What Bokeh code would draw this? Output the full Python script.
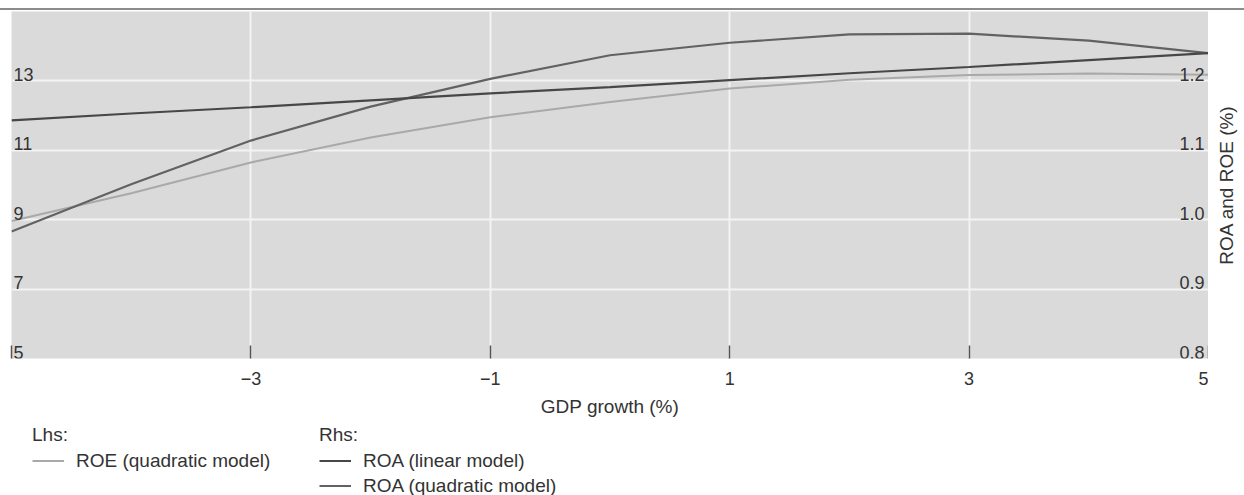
from bokeh.plotting import figure
from bokeh.models import (Range1d, FixedTicker, Grid, Legend, LegendItem, Div, Spacer)
from bokeh.layouts import column, row
from bokeh.embed import file_html
from bokeh.resources import INLINE
from bokeh.core.properties import value

# ---------------- data ----------------
gdp_growth = [-5, -4, -3, -2, -1, 0, 1, 2, 3, 4, 5]
roe_quadratic = [8.96, 9.76, 10.65, 11.37, 11.95, 12.39, 12.78, 13.03, 13.17, 13.21, 13.18]
roa_linear = [1.143, 1.153, 1.162, 1.172, 1.182, 1.191, 1.201, 1.211, 1.220, 1.230, 1.240]
roa_quadratic = [0.983, 1.051, 1.114, 1.163, 1.203, 1.237, 1.255, 1.267, 1.268, 1.258, 1.240]

x_ticks = [-5, -3, -1, 1, 3, 5]
x_tick_labels = ["", "\u22123", "\u22121", "1", "3", "5"]
x_grid_ticks = [-3, -1, 1, 3]
lhs_ticks = [5, 7, 9, 11, 13]
lhs_labels = ["5", "7", "9", "11", "13"]
lhs_grid_ticks = [7, 9, 11, 13]
rhs_ticks = [0.8, 0.9, 1.0, 1.1, 1.2]
rhs_labels = ["0.8", "0.9", "1.0", "1.1", "1.2"]

FONT = "Liberation Sans"
TXT = "#333333"
GRID = "#f3f3f3"
C_ROE = "#a9a9a9"
C_LIN = "#474747"
C_QUAD = "#626262"

FRAME_H = 347
BOTTOM = 65

p = figure(frame_width=1197, frame_height=FRAME_H,
           x_range=Range1d(-5, 5), y_range=Range1d(5, 15),
           y_axis_location=None,
           output_backend="svg", toolbar_location=None,
           min_border_left=11, min_border_top=1, min_border_right=0, min_border_bottom=BOTTOM,
           background_fill_color="#dadada", border_fill_color="white",
           outline_line_color=None, margin=0)
p.extra_y_ranges = {"right": Range1d(0.8, 1.3)}

# x axis
xa = p.xaxis[0]
xa.ticker = FixedTicker(ticks=x_ticks)
xa.major_label_overrides = {t: l for t, l in zip(x_ticks, x_tick_labels)}
xa.axis_line_color = None
xa.major_tick_in = 13
xa.major_tick_out = 0
xa.major_tick_line_color = "#555555"
xa.major_tick_line_width = 1.5
xa.minor_tick_line_color = None
xa.major_label_standoff = 13
xa.major_label_text_font = FONT
xa.major_label_text_font_size = "18px"
xa.major_label_text_color = TXT
xa.axis_label = "GDP growth (%)"
xa.axis_label_text_font = FONT
xa.axis_label_text_font_size = "19px"
xa.axis_label_text_font_style = "normal"
xa.axis_label_text_color = TXT
xa.axis_label_standoff = 8

# grids
p.xgrid.ticker = FixedTicker(ticks=x_grid_ticks)
p.xgrid.grid_line_color = GRID
p.xgrid.grid_line_width = 2
ygrids = [g for g in p.center if isinstance(g, Grid) and g.dimension == 1]
for g in ygrids:
    g.visible = False
p.add_layout(Grid(dimension=1, ticker=FixedTicker(ticks=lhs_grid_ticks),
                  grid_line_color=GRID, grid_line_width=2))

# lines
r_roe = p.line(gdp_growth, roe_quadratic, line_color=C_ROE, line_width=2)
r_quad = p.line(gdp_growth, roa_quadratic, y_range_name="right", line_color=C_QUAD, line_width=2.2)
r_lin = p.line(gdp_growth, roa_linear, y_range_name="right", line_color=C_LIN, line_width=2.2)

# tick labels inside the frame
p.text(x=[p.x_range.start] * len(lhs_ticks), y=lhs_ticks, text=lhs_labels,
       x_offset=2, text_align="left", text_baseline="bottom",
       text_font=value(FONT), text_font_size="18px", text_color=TXT)
p.text(x=[p.x_range.end] * len(rhs_ticks), y=rhs_ticks, text=rhs_labels,
       y_range_name="right", x_offset=-4, text_align="right", text_baseline="bottom",
       text_font=value(FONT), text_font_size="18px", text_color=TXT)

# right-hand axis title (separate narrow panel so it reads bottom-to-top)
p3 = figure(frame_width=6, frame_height=FRAME_H,
            x_range=Range1d(0, 1), y_range=Range1d(0.8, 1.3),
            x_axis_location=None, y_axis_location="left",
            output_backend="svg", toolbar_location=None,
            min_border_left=30, min_border_top=1, min_border_right=0, min_border_bottom=BOTTOM,
            background_fill_color="white", border_fill_color="white",
            outline_line_color=None, margin=0)
p3.xgrid.visible = False
p3.ygrid.visible = False
ya = p3.yaxis[0]
ya.ticker = FixedTicker(ticks=[])
ya.axis_line_color = None
ya.major_tick_line_color = None
ya.minor_tick_line_color = None
ya.major_tick_in = 0
ya.major_tick_out = 0
ya.minor_tick_in = 0
ya.minor_tick_out = 0
ya.major_label_standoff = 0
ya.major_label_text_font_size = "0px"
ya.axis_label = "ROA and ROE (%)"
ya.axis_label_standoff = 2
ya.axis_label_text_font = FONT
ya.axis_label_text_font_size = "19px"
ya.axis_label_text_font_style = "normal"
ya.axis_label_text_color = TXT

# legend panel: same series drawn off-view so the legend can show their line keys
p2 = figure(width=1244, height=72, x_range=Range1d(-5, 5), y_range=Range1d(100, 101),
            x_axis_location=None, y_axis_location=None,
            output_backend="svg", toolbar_location=None,
            min_border=0, background_fill_color="white", border_fill_color="white",
            outline_line_color=None, margin=0)
p2.xgrid.visible = False
p2.ygrid.visible = False
k_roe = p2.line(gdp_growth, roe_quadratic, line_color=C_ROE, line_width=2)
k_lin = p2.line(gdp_growth, roa_linear, line_color=C_LIN, line_width=2.2)
k_quad = p2.line(gdp_growth, roa_quadratic, line_color=C_QUAD, line_width=2.2)


def style_legend(leg):
    leg.label_text_font = FONT
    leg.label_text_font_size = "19px"
    leg.label_text_color = TXT
    leg.title_text_font = FONT
    leg.title_text_font_size = "19px"
    leg.title_text_font_style = "normal"
    leg.title_text_color = TXT
    leg.title_standoff = 2
    leg.glyph_width = 32
    leg.glyph_height = 25
    leg.label_height = 25
    leg.label_standoff = 12
    leg.padding = 0
    leg.spacing = 0
    leg.margin = 0
    leg.border_line_color = None
    leg.background_fill_alpha = 0
    return leg


leg_l = style_legend(Legend(items=[LegendItem(label="ROE (quadratic model)", renderers=[k_roe])],
                            title="Lhs:", location=(32, 22)))
leg_r = style_legend(Legend(items=[LegendItem(label="ROA (linear model)", renderers=[k_lin]),
                                   LegendItem(label="ROA (quadratic model)", renderers=[k_quad])],
                            title="Rhs:", location=(319, -3)))
p2.add_layout(leg_l)
p2.add_layout(leg_r)

top_space = Spacer(width=1244, height=8, margin=0)
rule = Div(text="", width=1244, height=2, margin=0,
           styles={"background-color": "#8c8c8c"})
layout = column(top_space, rule, row(p, p3, spacing=0), p2, spacing=0)

open("out.html", "w").write(file_html(layout, INLINE))
